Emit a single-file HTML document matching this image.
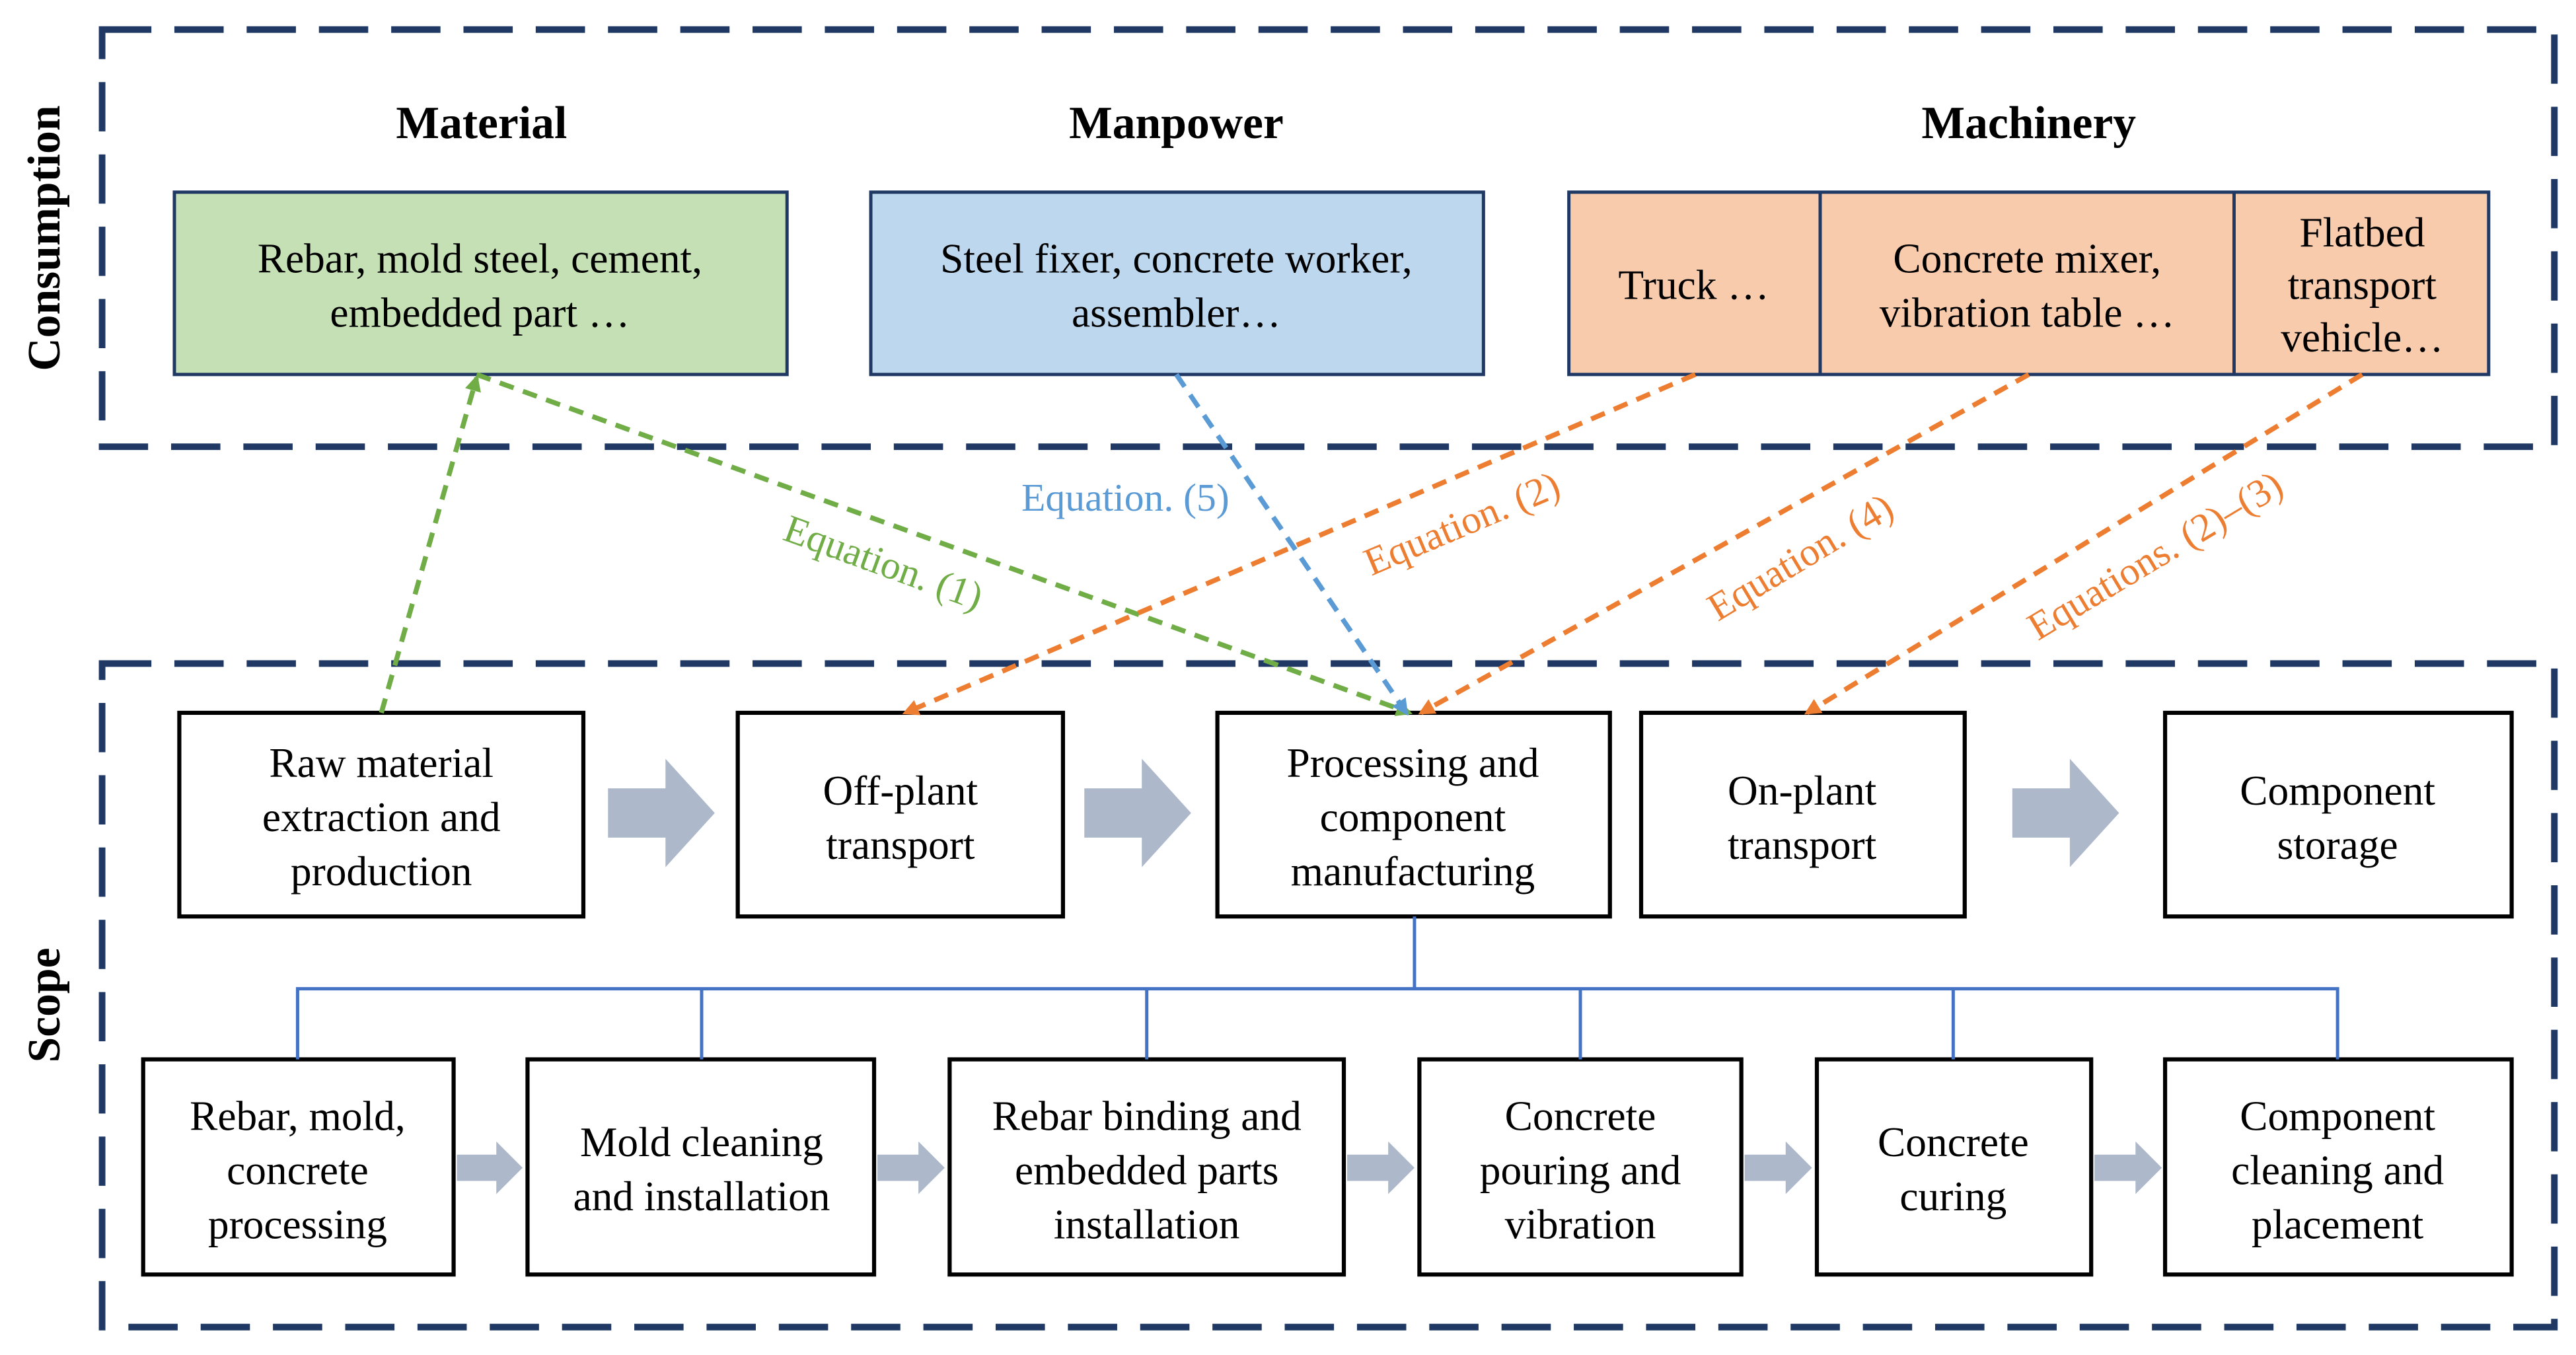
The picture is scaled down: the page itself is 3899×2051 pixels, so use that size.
<!DOCTYPE html>
<html><head><meta charset="utf-8"><style>
html,body{margin:0;padding:0;background:#fff}
svg{display:block}
text{font-family:"Liberation Serif",serif}
</style></head><body>
<svg width="3899" height="2051" viewBox="0 0 1568 825" xmlns="http://www.w3.org/2000/svg">
<defs>
<marker id="ag" markerWidth="10" markerHeight="10" refX="8" refY="5" orient="auto" markerUnits="userSpaceOnUse"><path d="M0,0 L10,5 L0,10 Z" fill="#70ad47"/></marker>
<marker id="ab" markerWidth="10" markerHeight="10" refX="8" refY="5" orient="auto" markerUnits="userSpaceOnUse"><path d="M0,0 L10,5 L0,10 Z" fill="#5b9bd5"/></marker>
<marker id="ao" markerWidth="10" markerHeight="10" refX="8" refY="5" orient="auto" markerUnits="userSpaceOnUse"><path d="M0,0 L10,5 L0,10 Z" fill="#ed7d31"/></marker>
</defs>
<g fill="none" stroke="#1f3864" stroke-width="4" stroke-dasharray="30,14">
<rect x="62" y="18" width="1493" height="254"/>
<rect x="62" y="404" width="1493" height="404"/>
</g>
<text transform="translate(36,145) rotate(-90)" text-anchor="middle" font-size="28" font-weight="bold">Consumption</text>
<text transform="translate(36,612) rotate(-90)" text-anchor="middle" font-size="28" font-weight="bold">Scope</text>
<g font-size="28" font-weight="bold" text-anchor="middle">
<text x="293" y="84">Material</text><text x="716" y="84">Manpower</text><text x="1235" y="84">Machinery</text>
</g>
<g stroke="#1f3864" stroke-width="2">
<rect x="106" y="117" width="373" height="111" fill="#c5e0b4"/>
<rect x="530" y="117" width="373" height="111" fill="#bdd7ee"/>
<rect x="955" y="117" width="560" height="111" fill="#f8cbad"/>
<line x1="1108" y1="117" x2="1108" y2="228"/><line x1="1360" y1="117" x2="1360" y2="228"/>
</g>
<g font-size="25.5" text-anchor="middle">
<text x="292" y="166">Rebar, mold steel, cement,</text><text x="292" y="199">embedded part …</text>
<text x="716" y="166">Steel fixer, concrete worker,</text><text x="716" y="199">assembler…</text>
<text x="1031" y="182">Truck …</text>
<text x="1234" y="166">Concrete mixer,</text><text x="1234" y="199">vibration table …</text>
<text x="1438" y="150">Flatbed</text><text x="1438" y="182">transport</text><text x="1438" y="214">vehicle…</text>
</g>
<g fill="#fff" stroke="#000" stroke-width="2.5">
<rect x="109" y="434" width="246" height="124"/><rect x="449" y="434" width="198" height="124"/>
<rect x="741" y="434" width="239" height="124"/><rect x="999" y="434" width="197" height="124"/>
<rect x="1318" y="434" width="211" height="124"/>
<rect x="87" y="645" width="189" height="131"/><rect x="321" y="645" width="211" height="131"/>
<rect x="578" y="645" width="240" height="131"/><rect x="864" y="645" width="196" height="131"/>
<rect x="1106" y="645" width="167" height="131"/><rect x="1318" y="645" width="211" height="131"/>
</g>
<g fill="#adb9ca">
<path d="M370,480 H405 V462 L435,495 L405,528 V510 H370 Z"/>
<path d="M660,480 H695 V462 L725,495 L695,528 V510 H660 Z"/>
<path d="M1225,480 H1260 V462 L1290,495 L1260,528 V510 H1225 Z"/>
<path d="M278,703 H302 V695 L318,711 L302,727 V719 H278 Z"/>
<path d="M534,703 H559 V695 L575,711 L559,727 V719 H534 Z"/>
<path d="M820,703 H845 V695 L861,711 L845,727 V719 H820 Z"/>
<path d="M1062,703 H1087 V695 L1103,711 L1087,727 V719 H1062 Z"/>
<path d="M1275,703 H1300 V695 L1316,711 L1300,727 V719 H1275 Z"/>
</g>
<g font-size="25.5" text-anchor="middle">
<text x="232" y="473">Raw material</text><text x="232" y="506">extraction and</text><text x="232" y="539">production</text>
<text x="548" y="490">Off-plant</text><text x="548" y="523">transport</text>
<text x="860" y="473">Processing and</text><text x="860" y="506">component</text><text x="860" y="539">manufacturing</text>
<text x="1097" y="490">On-plant</text><text x="1097" y="523">transport</text>
<text x="1423" y="490">Component</text><text x="1423" y="523">storage</text>
<text x="181" y="688">Rebar, mold,</text><text x="181" y="721">concrete</text><text x="181" y="754">processing</text>
<text x="427" y="704">Mold cleaning</text><text x="427" y="737">and installation</text>
<text x="698" y="688">Rebar binding and</text><text x="698" y="721">embedded parts</text><text x="698" y="754">installation</text>
<text x="962" y="688">Concrete</text><text x="962" y="721">pouring and</text><text x="962" y="754">vibration</text>
<text x="1189" y="704">Concrete</text><text x="1189" y="737">curing</text>
<text x="1423" y="688">Component</text><text x="1423" y="721">cleaning and</text><text x="1423" y="754">placement</text>
</g>
<g fill="none" stroke="#4472c4" stroke-width="2">
<path d="M861,558 V602 M181,645 V602 H1423 V645 M427,602 V645 M698,602 V645 M962,602 V645 M1189,602 V645"/>
</g>
<g fill="none" stroke-width="3" stroke-dasharray="9,6">
<line x1="232" y1="434" x2="290" y2="230" stroke="#70ad47" marker-end="url(#ag)"/>
<line x1="290" y1="228" x2="858" y2="434" stroke="#70ad47" marker-end="url(#ag)"/>
<line x1="716" y1="228" x2="856" y2="434" stroke="#5b9bd5" marker-end="url(#ab)"/>
<line x1="1032" y1="228" x2="551" y2="434" stroke="#ed7d31" marker-end="url(#ao)"/>
<line x1="1235" y1="228" x2="865" y2="434" stroke="#ed7d31" marker-end="url(#ao)"/>
<line x1="1438" y1="228" x2="1100" y2="434" stroke="#ed7d31" marker-end="url(#ao)"/>
</g>
<g font-size="24" text-anchor="middle">
<text transform="translate(535,350) rotate(20)" fill="#70ad47">Equation. (1)</text>
<text x="685" y="311" fill="#5b9bd5">Equation. (5)</text>
<text transform="translate(893,326) rotate(-23)" fill="#ed7d31">Equation. (2)</text>
<text transform="translate(1100,346) rotate(-31)" fill="#ed7d31">Equation. (4)</text>
<text transform="translate(1316,345) rotate(-31)" fill="#ed7d31">Equations. (2)–(3)</text>
</g>
</svg>
</body></html>
